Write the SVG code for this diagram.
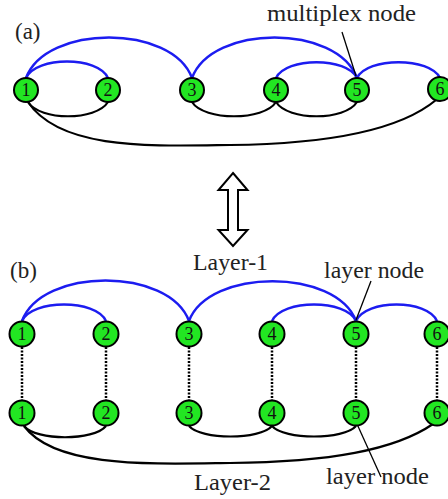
<svg xmlns="http://www.w3.org/2000/svg" width="448" height="499" viewBox="0 0 448 499">
<style>
.n{fill:#22e622;stroke:#000;stroke-width:2}
.d{font-size:18px;fill:#111;text-anchor:middle}
.t{font-size:23px;fill:#222}
.b{fill:none;stroke:#1c1cf0;stroke-width:2.4}
.k{fill:none;stroke:#000;stroke-width:2.2}
.dot{fill:none;stroke:#000;stroke-width:2.5;stroke-dasharray:2 1.5}
.p{fill:none;stroke:#000;stroke-width:1.3}
</style>
<rect width="448" height="499" fill="#fff"/>
<g id="connectors">
<path class="b" d="M26,78 C36,56 98,56 108,78"/>
<path class="b" d="M26,78 C46,24 172,24 192,78"/>
<path class="b" d="M192,78 C212,24 337,24 357,78"/>
<path class="b" d="M276,78 C286,57 347,57 357,78"/>
<path class="b" d="M357,78 C367,57 430,57 440,78"/>
<path class="k" d="M28,102 C40,121 96,121 108,102"/>
<path class="k" d="M192,102 C204,121 264,121 276,102"/>
<path class="k" d="M276,102 C288,121 345,121 357,102"/>
<path class="k" d="M28,102 C60,150 150,146 230,145 C330,144 400,130 436,100"/>
<path class="p" d="M342,32 L356,76"/>
<path class="b" d="M22,321 C32,299 96,299 106,321"/>
<path class="b" d="M22,321 C42,267 169,267 189,321"/>
<path class="b" d="M189,321 C209,268 336,268 356,321"/>
<path class="b" d="M272,321 C282,299 346,299 356,321"/>
<path class="b" d="M356,321 C366,299 427,299 437,321"/>
<path class="dot" d="M22,347 V401 M106,347 V401 M189,347 V401 M272,347 V401 M356,347 V401 M437,347 V401"/>
<path class="k" d="M24,426 C36,441 94,441 106,426"/>
<path class="k" d="M189,426 C201,440 260,440 272,426"/>
<path class="k" d="M272,426 C284,440 344,440 356,426"/>
<path class="k" d="M24,426 C55,468 150,464 230,463 C330,462 395,450 433,424"/>
<path class="p" d="M371,281 L356,320"/>
<path class="p" d="M357,424 L381,477"/>
</g>
<g id="arrow">
<polygon points="233,173 247.5,190 238,190 238,230 247.5,230 233,246 218.5,230 228,230 228,190 218.5,190" fill="#fff" stroke="#000" stroke-width="2"/>
</g>
<g id="labels" font-family="Liberation Serif, Times New Roman, serif">
<text class="t" x="15" y="39">(a)</text>
<text class="t" x="267" y="21" textLength="149" lengthAdjust="spacingAndGlyphs">multiplex node</text>
<text class="t" x="193" y="270" textLength="75" lengthAdjust="spacingAndGlyphs">Layer-1</text>
<text class="t" x="10" y="278">(b)</text>
<text class="t" x="324" y="278" textLength="100" lengthAdjust="spacingAndGlyphs">layer node</text>
<text class="t" x="326" y="484" textLength="103" lengthAdjust="spacingAndGlyphs">layer node</text>
<text class="t" x="194" y="490" textLength="77" lengthAdjust="spacingAndGlyphs">Layer-2</text>
</g>
<g id="nodes" font-family="Liberation Serif, Times New Roman, serif">
<g id="a1"><circle class="n" cx="26" cy="90" r="12"/><text class="d" x="26" y="96">1</text></g>
<g id="a2"><circle class="n" cx="108" cy="90" r="12"/><text class="d" x="108" y="96">2</text></g>
<g id="a3"><circle class="n" cx="192" cy="90" r="12"/><text class="d" x="192" y="96">3</text></g>
<g id="a4"><circle class="n" cx="276" cy="90" r="12"/><text class="d" x="276" y="96">4</text></g>
<g id="a5"><circle class="n" cx="357" cy="90" r="12"/><text class="d" x="357" y="96">5</text></g>
<g id="a6"><circle class="n" cx="440" cy="89" r="12"/><text class="d" x="440" y="95">6</text></g>
<g id="b1t"><circle class="n" cx="22" cy="334" r="12.5"/><text class="d" x="22" y="340">1</text></g>
<g id="b2t"><circle class="n" cx="106" cy="334" r="12.5"/><text class="d" x="106" y="340">2</text></g>
<g id="b3t"><circle class="n" cx="189" cy="334" r="12.5"/><text class="d" x="189" y="340">3</text></g>
<g id="b4t"><circle class="n" cx="272" cy="334" r="12.5"/><text class="d" x="272" y="340">4</text></g>
<g id="b5t"><circle class="n" cx="356" cy="334" r="12.5"/><text class="d" x="356" y="340">5</text></g>
<g id="b6t"><circle class="n" cx="437" cy="334" r="12.5"/><text class="d" x="437" y="340">6</text></g>
<g id="b1b"><circle class="n" cx="22" cy="413" r="12.5"/><text class="d" x="22" y="419">1</text></g>
<g id="b2b"><circle class="n" cx="106" cy="413" r="12.5"/><text class="d" x="106" y="419">2</text></g>
<g id="b3b"><circle class="n" cx="189" cy="413" r="12.5"/><text class="d" x="189" y="419">3</text></g>
<g id="b4b"><circle class="n" cx="272" cy="413" r="12.5"/><text class="d" x="272" y="419">4</text></g>
<g id="b5b"><circle class="n" cx="356" cy="413" r="12.5"/><text class="d" x="356" y="419">5</text></g>
<g id="b6b"><circle class="n" cx="437" cy="413" r="12.5"/><text class="d" x="437" y="419">6</text></g>
</g>
</svg>
